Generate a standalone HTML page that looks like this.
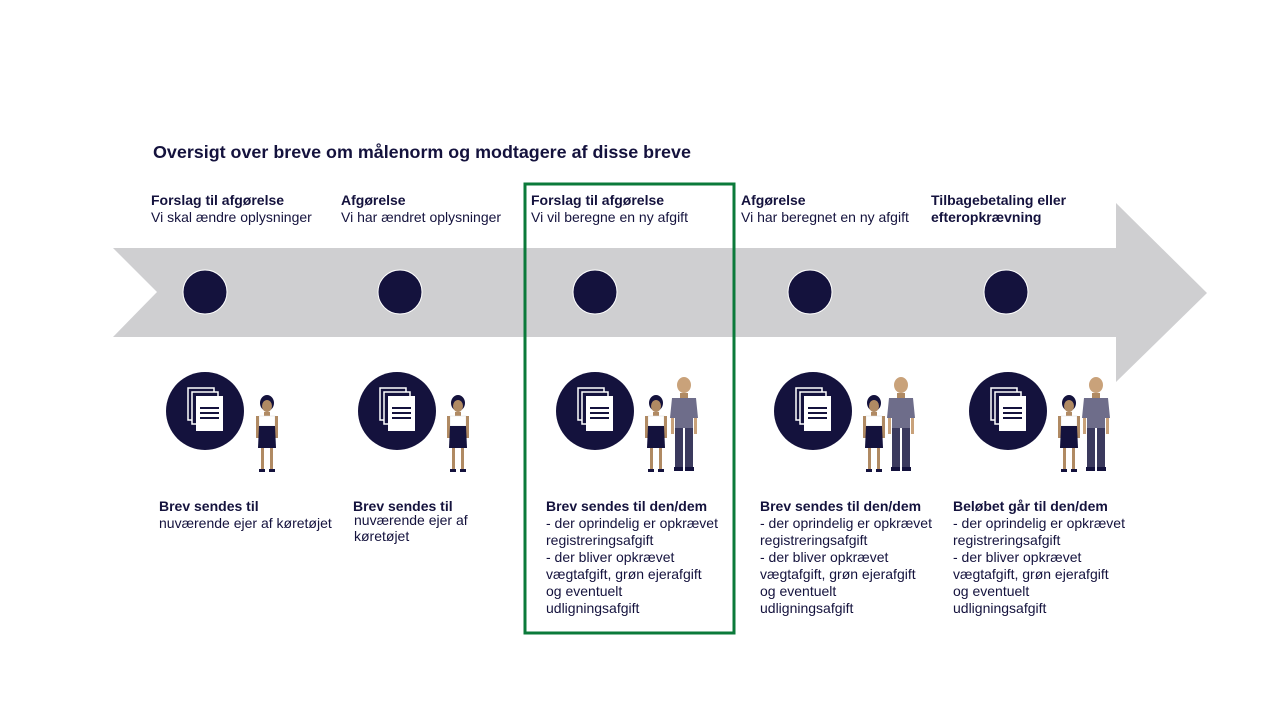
<!DOCTYPE html>
<html><head><meta charset="utf-8"><style>
body{margin:0;background:#fff;}
#c{position:relative;width:1280px;height:720px;overflow:hidden;font-family:"Liberation Sans",Arial,sans-serif;color:#14123d;}
.t{position:absolute;font-size:14px;line-height:17px;white-space:nowrap;}
.b{font-weight:bold;}
</style></head><body><div id="c">
<svg width="1280" height="720" style="position:absolute;left:0;top:0">
<defs>
<g id="doc">
<circle cx="0" cy="0" r="39" fill="#14123d"/>
<rect x="-17" y="-23" width="26" height="32" fill="none" stroke="#fff" stroke-width="1.5"/>
<rect x="-13" y="-19" width="26" height="32" fill="#14123d" stroke="#fff" stroke-width="1.5"/>
<rect x="-9" y="-15" width="27" height="35" fill="#fff"/>
<rect x="-5" y="-4" width="19" height="2" fill="#14123d"/>
<rect x="-5" y="1" width="19" height="2" fill="#14123d"/>
<rect x="-5" y="6" width="19" height="2" fill="#14123d"/>
</g>
<g id="woman">
<ellipse cx="0" cy="-35" rx="7" ry="8" fill="#14123d"/>
<ellipse cx="0" cy="-32" rx="5" ry="6" fill="#b08a63"/>
<rect x="-3" y="-26" width="6" height="4" fill="#b08a63"/>
<rect x="-8" y="-22" width="16" height="10" fill="#fff" stroke="#ddd" stroke-width="0.5"/>
<rect x="-11" y="-22" width="3" height="22" fill="#b08a63"/>
<rect x="8" y="-22" width="3" height="22" fill="#b08a63"/>
<path d="M-8 -12 L8 -12 L9 10 L-9 10Z" fill="#14123d"/>
<rect x="-6" y="10" width="3" height="22" fill="#b08a63"/>
<rect x="3" y="10" width="3" height="22" fill="#b08a63"/>
<rect x="-8" y="31" width="6" height="3" fill="#14123d"/>
<rect x="2" y="31" width="6" height="3" fill="#14123d"/>
</g>
<g id="man">
<ellipse cx="0" cy="-45" rx="7" ry="8" fill="#c9a27a"/>
<rect x="-4" y="-37" width="8" height="5" fill="#b08a63"/>
<path d="M-12 -32 L12 -32 L14 -12 L9 -12 L9 -2 L-9 -2 L-9 -12 L-14 -12Z" fill="#6e6d8a"/>
<rect x="-13" y="-12" width="3" height="16" fill="#c9a27a"/>
<rect x="10" y="-12" width="3" height="16" fill="#c9a27a"/>
<rect x="-9" y="-2" width="8" height="40" fill="#3b3a5e"/>
<rect x="1" y="-2" width="8" height="40" fill="#3b3a5e"/>
<rect x="-10" y="37" width="9" height="4" fill="#14123d"/>
<rect x="1" y="37" width="9" height="4" fill="#14123d"/>
</g>
</defs>
<polygon points="113,248 1116,248 1116,203 1207,293 1116,382 1116,337 113,337 157,292" fill="#cfcfd1"/>
<g fill="#14123d" stroke="#fff" stroke-width="1">
<circle cx="205" cy="292" r="22"/><circle cx="400" cy="292" r="22"/><circle cx="595" cy="292" r="22"/><circle cx="810" cy="292" r="22"/><circle cx="1006" cy="292" r="22"/>
</g>
<use href="#doc" x="205" y="411"/><use href="#doc" x="397" y="411"/><use href="#doc" x="595" y="411"/><use href="#doc" x="813" y="411"/><use href="#doc" x="1008" y="411"/>
<use href="#woman" x="267" y="438"/><use href="#woman" x="458" y="438"/><use href="#woman" x="656" y="438"/><use href="#woman" x="874" y="438"/><use href="#woman" x="1069" y="438"/>
<use href="#man" x="684" y="430"/><use href="#man" x="901" y="430"/><use href="#man" x="1096" y="430"/>
<rect x="525" y="184" width="209" height="449" fill="none" stroke="#0b7a3a" stroke-width="3"/>
</svg>
<div class="t b" style="left:153px;top:142px;font-size:17.9px;line-height:20px">Oversigt over breve om målenorm og modtagere af disse breve</div>
<div class="t" style="left:151px;top:192px"><span class="b">Forslag til afgørelse</span><br>Vi skal ændre oplysninger</div>
<div class="t" style="left:341px;top:192px"><span class="b">Afgørelse</span><br>Vi har ændret oplysninger</div>
<div class="t" style="left:531px;top:192px"><span class="b">Forslag til afgørelse</span><br>Vi vil beregne en ny afgift</div>
<div class="t" style="left:741px;top:192px"><span class="b">Afgørelse</span><br>Vi har beregnet en ny afgift</div>
<div class="t b" style="left:931px;top:192px">Tilbagebetaling eller<br>efteropkrævning</div>
<div class="t" style="left:159px;top:498px"><span class="b">Brev sendes til</span><br>nuværende ejer af køretøjet</div>
<div class="t" style="left:353px;top:498px"><span class="b">Brev sendes til</span></div>
<div class="t" style="left:354px;top:512px;line-height:16px">nuværende ejer af<br>køretøjet</div>
<div class="t" style="left:546px;top:498px"><span class="b">Brev sendes til den/dem</span><br>- der oprindelig er opkrævet<br>registreringsafgift<br>- der bliver opkrævet<br>vægtafgift, grøn ejerafgift<br>og eventuelt<br>udligningsafgift</div>
<div class="t" style="left:760px;top:498px"><span class="b">Brev sendes til den/dem</span><br>- der oprindelig er opkrævet<br>registreringsafgift<br>- der bliver opkrævet<br>vægtafgift, grøn ejerafgift<br>og eventuelt<br>udligningsafgift</div>
<div class="t" style="left:953px;top:498px"><span class="b">Beløbet går til den/dem</span><br>- der oprindelig er opkrævet<br>registreringsafgift<br>- der bliver opkrævet<br>vægtafgift, grøn ejerafgift<br>og eventuelt<br>udligningsafgift</div>
</div></body></html>
